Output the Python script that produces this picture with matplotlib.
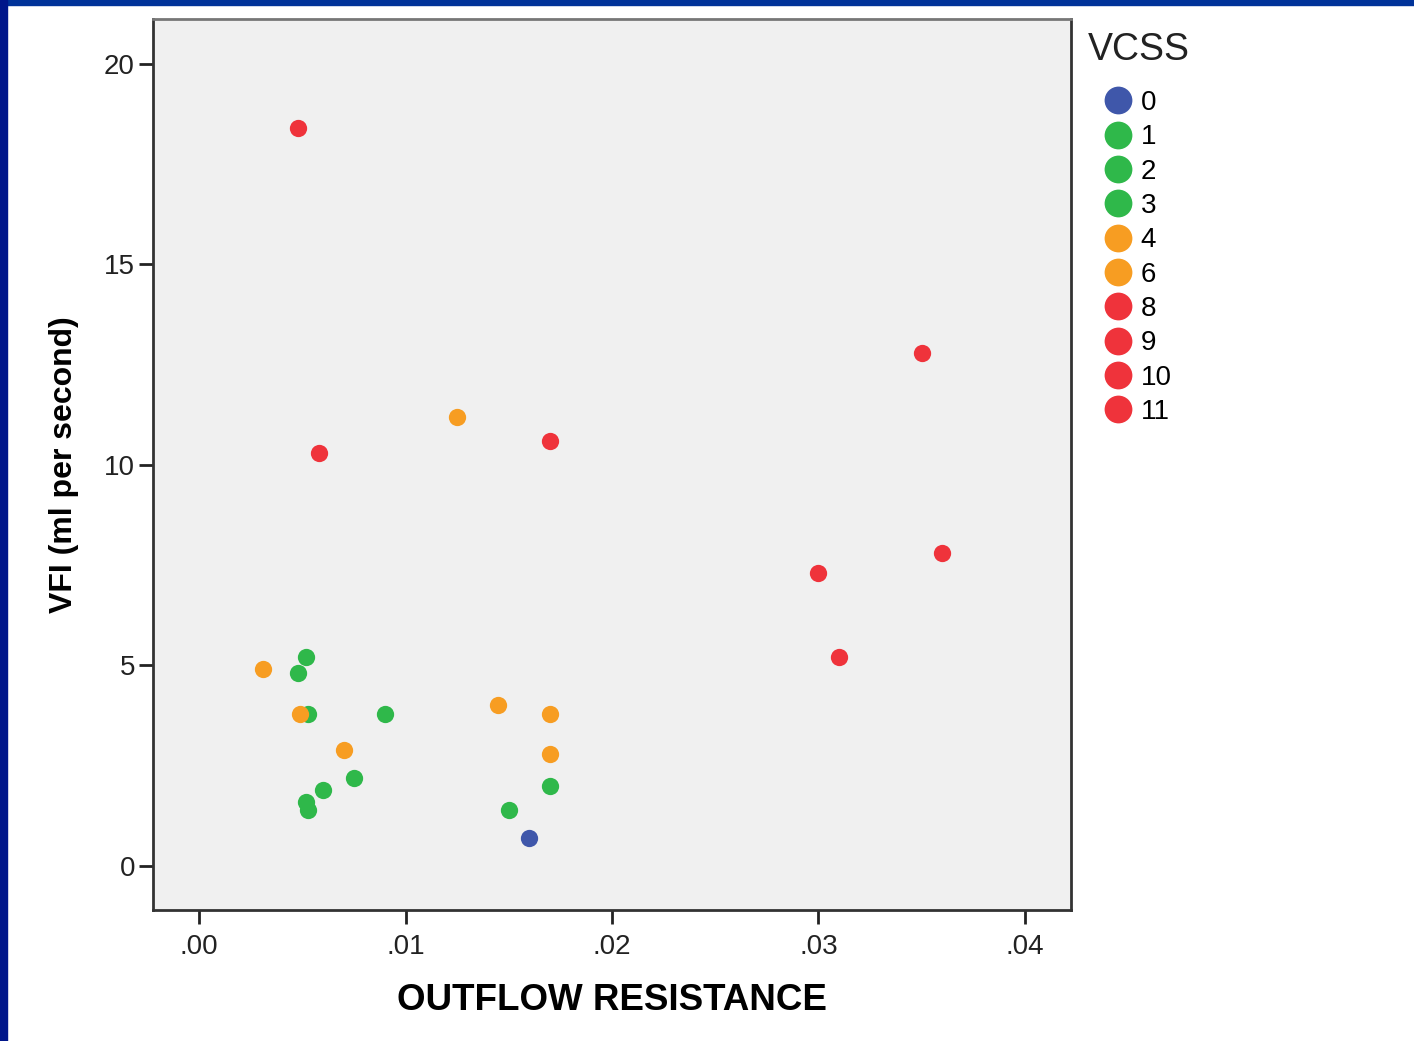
import matplotlib.pyplot as plt
from matplotlib.lines import Line2D
from matplotlib.patches import Rectangle

plt.rcParams['font.family'] = ['Liberation Sans', 'DejaVu Sans']

# VCSS groups -> colours
BLUE = '#3f57aa'
GREEN = '#2fb84a'
ORANGE = '#f79d22'
RED = '#ef333b'

vcss_levels = ['0', '1', '2', '3', '4', '6', '8', '9', '10', '11']
level_colors = [BLUE, GREEN, GREEN, GREEN, ORANGE, ORANGE, RED, RED, RED, RED]

# data points (outflow resistance, VFI)
red_x = [0.0048, 0.0058, 0.0170, 0.0350, 0.0360, 0.0300, 0.0310]
red_y = [18.4, 10.3, 10.6, 12.8, 7.8, 7.3, 5.2]

orange_x = [0.0031, 0.0125, 0.0049, 0.0070, 0.0145, 0.0170, 0.0170]
orange_y = [4.9, 11.2, 3.8, 2.9, 4.0, 3.8, 2.8]

green_x = [0.0052, 0.0048, 0.0053, 0.0090, 0.0060, 0.0075, 0.0052, 0.0053, 0.0150, 0.0170]
green_y = [5.2, 4.8, 3.8, 3.8, 1.9, 2.2, 1.6, 1.4, 1.4, 2.0]

blue_x = [0.0160]
blue_y = [0.7]

xticks = [0.0, 0.01, 0.02, 0.03, 0.04]
xticklabels = ['.00', '.01', '.02', '.03', '.04']
yticks = [0, 5, 10, 15, 20]


def main():
    W, H = 1414, 1041
    fig = plt.figure(figsize=(W / 100, H / 100), dpi=100)
    fig.patch.set_facecolor('white')

    # blue slide frame
    fig.patches.append(Rectangle((0, 1 - 5 / H), 1, 5 / H, transform=fig.transFigure,
                                 color='#003399', zorder=10))
    fig.patches.append(Rectangle((0, 0), 7 / W, 1, transform=fig.transFigure,
                                 color='#00168a', zorder=10))

    ax = fig.add_axes([153 / W, 1 - 910 / H, 918 / W, 891 / H])
    ax.set_facecolor('#f0f0f0')

    ms = 155
    ax.scatter(green_x, green_y, s=ms, color=GREEN, linewidths=0, zorder=3)
    ax.scatter(orange_x, orange_y, s=ms, color=ORANGE, linewidths=0, zorder=4)
    ax.scatter(red_x, red_y, s=ms, color=RED, linewidths=0, zorder=3)
    ax.scatter(blue_x, blue_y, s=ms, color=BLUE, linewidths=0, zorder=3)

    ax.set_xlim(-0.00223, 0.04223)
    ax.set_ylim(-1.1, 21.12)
    ax.set_xticks(xticks)
    ax.set_xticklabels(xticklabels)
    ax.set_yticks(yticks)
    ax.tick_params(axis='both', direction='out', length=10, width=2, color='#222222',
                   labelsize=20, labelcolor='#222222')
    ax.tick_params(axis='x', pad=7)
    ax.tick_params(axis='y', pad=3)

    for side in ['left', 'bottom', 'right', 'top']:
        ax.spines[side].set_linewidth(2)
        ax.spines[side].set_color('#333333')
    ax.spines['top'].set_color('#777777')

    ax.set_xlabel('OUTFLOW RESISTANCE', fontsize=26.5, fontweight='bold', labelpad=17)
    ax.set_ylabel('VFI (ml per second)', fontsize=23, fontweight='bold', labelpad=18)

    # legend
    fig.text(1088 / W, 1 - 50 / H, 'VCSS', fontsize=27, color='#222222',
             ha='left', va='center')
    handles = [Line2D([], [], marker='o', linestyle='none', markersize=20,
                      markerfacecolor=c, markeredgewidth=0) for c in level_colors]
    fig.legend(handles, vcss_levels, loc='upper left',
               bbox_to_anchor=(1103 / W, 1 - 90 / H), frameon=False,
               fontsize=20, handlelength=1.1, handletextpad=0.25,
               labelspacing=0.3, borderaxespad=0, borderpad=0)

    fig.savefig('out.png', dpi=100, facecolor='white')


if __name__ == '__main__':
    main()
